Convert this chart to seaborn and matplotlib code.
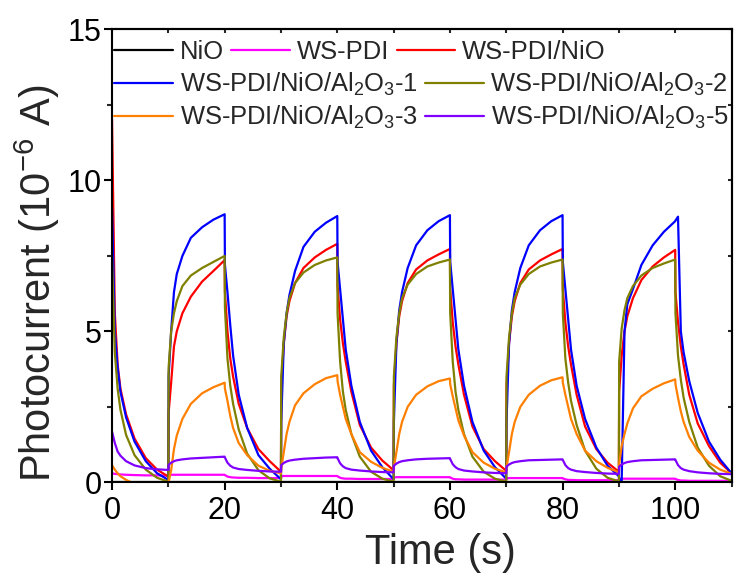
import matplotlib
matplotlib.use("Agg")
import matplotlib.pyplot as plt
import seaborn as sns
import pandas as pd
from matplotlib.lines import Line2D
from matplotlib.legend import Legend
from matplotlib.ticker import MultipleLocator

# ---------------- data ----------------
series_names = ["NiO", "WS-PDI", "WS-PDI/NiO",
                "WS-PDI/NiO/Al$_{\\mathregular{2}}$O$_{\\mathregular{3}}$-1",
                "WS-PDI/NiO/Al$_{\\mathregular{2}}$O$_{\\mathregular{3}}$-2",
                "WS-PDI/NiO/Al$_{\\mathregular{2}}$O$_{\\mathregular{3}}$-3",
                "WS-PDI/NiO/Al$_{\\mathregular{2}}$O$_{\\mathregular{3}}$-5"]
series_colors = ["#000000", "#FF00FF", "#FF0000", "#0000FF", "#808000", "#FF8000", "#8000FF"]

time_s = [0, 0.5, 1, 1.5, 2.5, 4, 6, 8, 10,
          10.05, 10.5, 11, 11.5, 12.5, 14, 16, 18, 20, 20.05, 20.5, 21, 21.5, 22.5, 24, 26, 28, 30,
          30.05, 30.5, 31, 31.5, 32.5, 34, 36, 38, 40, 40.05, 40.5, 41, 41.5, 42.5, 44, 46, 48, 50,
          50.05, 50.5, 51, 51.5, 52.5, 54, 56, 58, 60, 60.05, 60.5, 61, 61.5, 62.5, 64, 66, 68, 70,
          70.05, 70.5, 71, 71.5, 72.5, 74, 76, 78, 80, 80.05, 80.5, 81, 81.5, 82.5, 84, 86, 88, 90,
          90.05, 90.5, 91, 91.5, 92.5, 94, 96, 98, 100, 100.05, 100.5, 101, 101.5, 102.5, 104, 106, 108, 110]

nio_time = [0, 110]
nio_current = [0.02, 0.02]

ws_pdi_current = [
    0.30, 0.28, 0.27, 0.26, 0.25, 0.24, 0.23, 0.23, 0.22,
    0.24, 0.25, 0.25, 0.25, 0.25, 0.25, 0.25, 0.25, 0.25, 0.24, 0.19, 0.17, 0.16, 0.15, 0.15, 0.14, 0.14, 0.14,
    0.20, 0.21, 0.21, 0.21, 0.21, 0.21, 0.21, 0.21, 0.21, 0.20, 0.15, 0.13, 0.12, 0.12, 0.11, 0.11, 0.11, 0.11,
    0.16, 0.17, 0.17, 0.17, 0.17, 0.17, 0.17, 0.17, 0.17, 0.16, 0.12, 0.10, 0.10, 0.09, 0.09, 0.09, 0.09, 0.09,
    0.13, 0.14, 0.14, 0.14, 0.14, 0.14, 0.14, 0.14, 0.14, 0.13, 0.10, 0.08, 0.08, 0.07, 0.07, 0.07, 0.07, 0.07,
    0.11, 0.12, 0.12, 0.12, 0.12, 0.12, 0.12, 0.12, 0.12, 0.11, 0.08, 0.06, 0.06, 0.05, 0.05, 0.05, 0.05, 0.05]

ws_pdi_nio_current = [
    12.05, 5.6, 3.9, 3.1, 2.25, 1.45, 0.8, 0.42, 0.19,
    2.3, 3.3, 4.5, 5.0, 5.6, 6.15, 6.65, 7.0, 7.36, 6.3, 5.0, 4.1, 3.5, 2.6, 1.8, 1.1, 0.7, 0.35,
    3.2, 4.6, 5.5, 6.0, 6.6, 7.1, 7.45, 7.7, 7.9, 6.5, 5.4, 4.6, 4.0, 3.0, 1.9, 1.15, 0.72, 0.4,
    3.2, 4.6, 5.5, 6.0, 6.6, 7.05, 7.35, 7.55, 7.73, 6.4, 5.3, 4.5, 3.9, 2.9, 1.85, 1.1, 0.7, 0.38,
    3.2, 4.6, 5.5, 6.0, 6.6, 7.05, 7.35, 7.55, 7.73, 6.4, 5.3, 4.5, 3.9, 2.9, 1.85, 1.1, 0.65, 0.35,
    3.0, 4.2, 5.0, 5.5, 6.1, 6.7, 7.15, 7.45, 7.7, 6.3, 5.3, 4.5, 3.9, 2.9, 1.95, 1.2, 0.65, 0.3]

al2o3_1_current = [
    9.1, 5.0, 3.8, 3.0, 2.15, 1.35, 0.7, 0.3, 0.08,
    3.5, 5.0, 6.3, 6.9, 7.5, 8.1, 8.45, 8.7, 8.88, 7.2, 6.3, 5.2, 4.2, 2.9, 1.8, 0.9, 0.45, 0.1,
    2.0, 4.6, 5.6, 6.2, 7.0, 7.8, 8.3, 8.6, 8.82, 7.3, 6.4, 5.4, 4.4, 3.2, 2.0, 1.05, 0.5, 0.1,
    2.0, 4.6, 5.7, 6.3, 7.1, 7.85, 8.35, 8.65, 8.85, 7.3, 6.4, 5.4, 4.4, 3.2, 2.0, 1.05, 0.5, 0.12,
    2.0, 4.6, 5.7, 6.3, 7.1, 7.85, 8.35, 8.65, 8.85, 7.3, 6.4, 5.4, 4.4, 3.2, 2.1, 1.15, 0.55, 0.2,
    0.12, 0.05, 5.0, 5.9, 6.4, 7.2, 7.85, 8.3, 8.65, 8.67, 8.8, 5.0, 4.3, 3.35, 2.3, 1.35, 0.75, 0.3]

al2o3_2_current = [
    7.47, 4.3, 3.1, 2.4, 1.57, 0.9, 0.42, 0.15, 0.02,
    3.8, 5.0, 5.6, 6.0, 6.5, 6.85, 7.1, 7.3, 7.5, 5.8, 4.1, 3.2, 2.6, 1.75, 0.95, 0.4, 0.13, 0.02,
    3.5, 4.8, 5.6, 6.1, 6.6, 6.95, 7.2, 7.35, 7.45, 5.6, 4.0, 3.0, 2.4, 1.6, 0.85, 0.35, 0.12, 0.02,
    3.5, 4.8, 5.6, 6.1, 6.55, 6.9, 7.15, 7.28, 7.38, 5.6, 4.0, 3.0, 2.4, 1.6, 0.85, 0.35, 0.12, 0.02,
    3.5, 4.8, 5.6, 6.1, 6.55, 6.9, 7.15, 7.28, 7.38, 5.6, 4.1, 3.3, 2.7, 1.9, 1.05, 0.45, 0.15, 0.03,
    4.0, 5.1, 5.7, 6.1, 6.5, 6.85, 7.1, 7.25, 7.38, 5.6, 4.2, 3.4, 2.8, 2.0, 1.15, 0.55, 0.2, 0.05]

al2o3_3_current = [
    0.57, 0.42, 0.3, 0.2, 0.08, -0.05, -0.1, -0.1, -0.05,
    0.0, 0.4, 1.1, 1.55, 2.1, 2.6, 2.95, 3.15, 3.3, 3.1, 2.7, 2.2, 1.8, 1.3, 0.9, 0.55, 0.38, 0.3,
    0.45, 1.0, 1.6, 2.0, 2.55, 2.95, 3.25, 3.45, 3.55, 3.35, 2.9, 2.5, 2.1, 1.6, 1.0, 0.68, 0.48, 0.35,
    0.5, 1.0, 1.6, 2.0, 2.5, 2.9, 3.18, 3.35, 3.44, 3.25, 2.85, 2.45, 2.05, 1.55, 1.0, 0.65, 0.45, 0.33,
    0.5, 1.0, 1.6, 2.0, 2.5, 2.9, 3.2, 3.38, 3.48, 3.3, 2.9, 2.5, 2.1, 1.6, 1.05, 0.7, 0.48, 0.33,
    0.6, 1.2, 1.6, 1.95, 2.45, 2.85, 3.1, 3.28, 3.41, 3.25, 2.8, 2.35, 2.0, 1.5, 1.05, 0.65, 0.42, 0.28]

al2o3_5_current = [
    1.68, 1.3, 1.02, 0.88, 0.7, 0.56, 0.47, 0.43, 0.41,
    0.58, 0.65, 0.7, 0.73, 0.76, 0.79, 0.81, 0.83, 0.85, 0.82, 0.65, 0.55, 0.49, 0.44, 0.41, 0.38, 0.36, 0.35,
    0.57, 0.64, 0.69, 0.72, 0.75, 0.78, 0.8, 0.82, 0.83, 0.8, 0.63, 0.53, 0.47, 0.42, 0.39, 0.36, 0.34, 0.33,
    0.55, 0.62, 0.67, 0.7, 0.73, 0.76, 0.78, 0.79, 0.8, 0.77, 0.6, 0.5, 0.44, 0.39, 0.36, 0.33, 0.31, 0.3,
    0.52, 0.59, 0.64, 0.67, 0.7, 0.73, 0.74, 0.75, 0.76, 0.74, 0.57, 0.47, 0.42, 0.37, 0.34, 0.31, 0.29, 0.28,
    0.52, 0.59, 0.64, 0.67, 0.7, 0.73, 0.74, 0.75, 0.76, 0.74, 0.57, 0.47, 0.42, 0.37, 0.33, 0.3, 0.28, 0.27]

x_ticks = [0, 20, 40, 60, 80, 100]
y_ticks = [0, 5, 10, 15]
x_label = "Time (s)"
y_label = "Photocurrent (10$^{\\mathregular{-6}}$ A)"

# ---------------- build long table ----------------
frames = [pd.DataFrame({"time": nio_time, "current": nio_current, "sample": series_names[0]})]
for name, vals in zip(series_names[1:], [ws_pdi_current, ws_pdi_nio_current, al2o3_1_current,
                                         al2o3_2_current, al2o3_3_current, al2o3_5_current]):
    frames.append(pd.DataFrame({"time": time_s[:len(vals)], "current": vals, "sample": name}))
df = pd.concat(frames, ignore_index=True)

# ---------------- style ----------------
sns.set_theme(style="ticks")
plt.rcParams["font.family"] = ["Liberation Sans", "DejaVu Sans"]
plt.rcParams["mathtext.fontset"] = "custom"
plt.rcParams["mathtext.rm"] = "Liberation Sans"
plt.rcParams["mathtext.it"] = "Liberation Sans:italic"
plt.rcParams["mathtext.bf"] = "Liberation Sans:bold"

fig = plt.figure(figsize=(7.34, 5.83), dpi=100)
ax = fig.add_axes([0.1526, 0.1727, 0.8440, 0.7767])

sns.lineplot(data=df, x="time", y="current", hue="sample", hue_order=series_names,
             palette=series_colors, estimator=None, sort=False, linewidth=1.6,
             legend=False, ax=ax)

ax.set_xlim(0, 110)
ax.set_ylim(0, 15)
ax.set_xticks(x_ticks)
ax.set_yticks(y_ticks)
ax.xaxis.set_minor_locator(MultipleLocator(10))
ax.yaxis.set_minor_locator(MultipleLocator(2.5))
ax.tick_params(which="major", direction="out", length=5.5, width=1.5, labelsize=22,
               pad=4, colors="black")
ax.tick_params(which="minor", direction="out", length=3.5, width=1.5)
ax.tick_params(axis="y", pad=2)
for sp in ax.spines.values():
    sp.set_linewidth(1.5)
    sp.set_color("black")

secx = ax.secondary_xaxis("top")
secx.xaxis.set_major_locator(MultipleLocator(10))
secx.tick_params(direction="in", length=3, width=1.5, labeltop=False)
secx.spines["top"].set_linewidth(1.5)
secy = ax.secondary_yaxis("right")
secy.yaxis.set_major_locator(MultipleLocator(2.5))
secy.tick_params(direction="in", length=3, width=1.5, labelright=False)
secy.spines["right"].set_linewidth(1.5)

ax.set_xlabel(x_label, fontsize=30)
ax.set_ylabel(y_label, fontsize=30)
ax.xaxis.set_label_coords(0.53, -0.112)
ax.yaxis.set_label_coords(-0.08, 0.44)

# legend in three rows as in the reference (each row drawn once)
handles = [Line2D([], [], color=c, lw=1.6) for c in series_colors]
rows = [(0, 3, 0.950), (3, 5, 0.878), (5, 7, 0.805)]
for a, b, yy in rows:
    leg = Legend(ax, handles[a:b], series_names[a:b], ncol=b - a, loc="center left",
                 bbox_to_anchor=(0.004, yy), frameon=False, fontsize=18.4,
                 handlelength=2.3, handletextpad=0.25, columnspacing=0.3,
                 borderpad=0, borderaxespad=0)
    ax.add_artist(leg)

fig.savefig("out.png", dpi=100)
